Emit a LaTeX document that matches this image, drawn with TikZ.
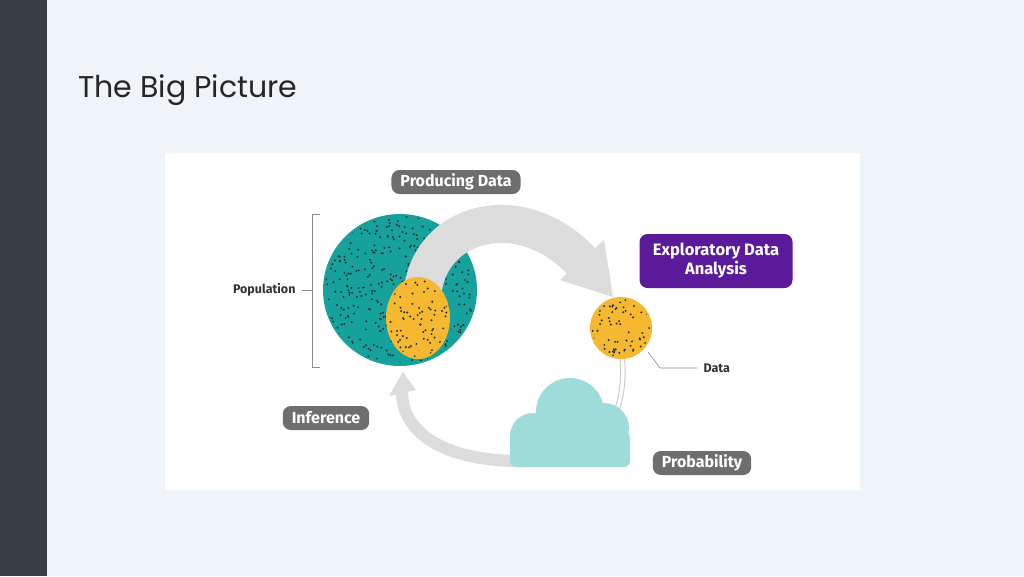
\documentclass[tikz,border=0pt]{standalone}
\usepackage{fontspec}
\setmainfont{Fira Sans}
\newfontfamily\titlefont{Poppins}
\newfontfamily\semi{Fira Sans SemiBold}
\usetikzlibrary{calc}
\definecolor{bgc}{HTML}{EEF4F7}
\definecolor{barc}{HTML}{373E47}
\definecolor{tealc}{HTML}{17A19D}
\definecolor{yelc}{HTML}{F6B830}
\definecolor{pillc}{HTML}{6D6E70}
\definecolor{purc}{HTML}{5B1A9A}
\definecolor{cloudc}{HTML}{9EDCDA}
\definecolor{arrc}{HTML}{DCDCDC}
\definecolor{dotc}{HTML}{1D3535}
\tikzset{
  pill/.style={fill=pillc,rounded corners=8pt,text=white,font=\bfseries\fontsize{16}{16}\selectfont,minimum height=24pt,inner xsep=9pt,inner ysep=2pt},
  lbl/.style={text=black!80,font=\bfseries\fontsize{12.5}{12.5}\selectfont},
  thin/.style={draw=black!45,line width=0.6pt}
}
\begin{document}
\begin{tikzpicture}[x=1pt,y=-1pt]
\fill[bgc] (0,0) rectangle (1024,576);
\useasboundingbox (0,0) rectangle (1024,576);
\fill[barc] (0,0) rectangle (47,576);
\node[anchor=base west,inner sep=0,font=\titlefont\fontsize{30}{30}\selectfont,text=black!85] (title) at (78,97) {The Big Picture};
\fill[white] (165,153) rectangle (860,490);
% teal population
\fill[tealc] (400,290) ellipse [x radius=77,y radius=76];
\begin{scope}
\clip (400,290) ellipse [x radius=75,y radius=74];
\pgfmathsetseed{7}
\foreach \i in {1,...,450}{\fill[dotc] ({323+154*rnd},{214+152*rnd}) circle (1.1);}
\end{scope}
% big arrow
\draw[arrc,line width=38pt] (422,300) .. controls (424,222) and (520,195) .. (582,262);
\fill[arrc] (560,280) -- (604,240) -- (613,297) -- cycle;
% yellow sample
\fill[yelc] (418,318) ellipse [x radius=32,y radius=41];
\begin{scope}
\clip (418,318) ellipse [x radius=30,y radius=39];
\foreach \i in {1,...,90}{\fill[dotc] ({386+64*rnd},{277+82*rnd}) circle (1.1);}
\end{scope}
% ring line to cloud
\draw[black!22,line width=5.5pt] (622,355) .. controls (625,385) and (620,405) .. (612,422);
\draw[white,line width=3.5pt] (622,355) .. controls (625,385) and (620,405) .. (612,422);
% data circle
\fill[yelc] (621,328) circle (31);
\begin{scope}
\clip (621,328) circle (29);
\foreach \i in {1,...,80}{\fill[dotc] ({592+58*rnd},{299+58*rnd}) circle (1.1);}
\end{scope}
% inference arrow
\draw[arrc,line width=12pt] (525,461) .. controls (440,462) and (402,430) .. (402,392);
\fill[arrc] (389,396) -- (403,372) -- (416,390) -- cycle;
% cloud
\fill[cloudc] (570,412) circle (34);
\fill[cloudc] (533,436) circle (23);
\fill[cloudc] (604,428) circle (25);
\fill[cloudc,rounded corners=6pt] (510,432) rectangle (630,467);
% labels
\node[pill] (pd) at (456,182) {Producing Data};
\node[pill] (inf) at (326,418) {Inference};
\node[pill] (prob) at (702,463) {Probability};
\node[fill=purc,rounded corners=8pt,text=white,font=\bfseries\fontsize{16.5}{19}\selectfont,align=center,minimum width=153pt,minimum height=54pt] (eda) at (716,261) {Exploratory Data\\Analysis};
% population bracket
\node[lbl,anchor=east] (pop) at (299,290) {Population};
\draw[thin] (302,290) -- (312,290);
\draw[thin] (320,214) -- (312,214) -- (312,367) -- (320,367);
% data label
\node[lbl,anchor=west] (data) at (700,368) {Data};
\draw[thin] (648,352) -- (660,368) -- (697,368);
\end{tikzpicture}
\end{document}
